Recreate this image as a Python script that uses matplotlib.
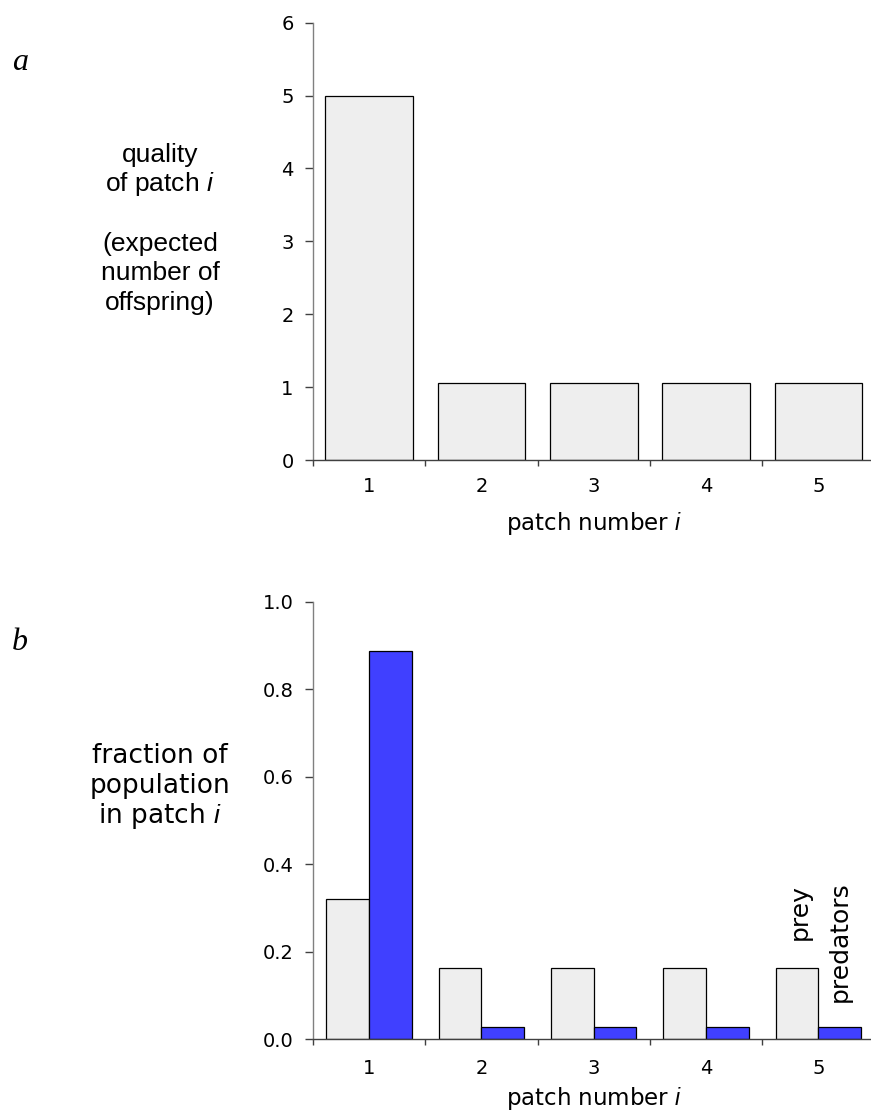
import numpy as np
import matplotlib
matplotlib.use("Agg")
import matplotlib.pyplot as plt

plt.rcParams['mathtext.fontset'] = 'custom'
plt.rcParams['mathtext.it'] = 'Liberation Sans:italic'
plt.rcParams['mathtext.rm'] = 'Liberation Sans'

# data
patches = [1, 2, 3, 4, 5]
quality = [5.0, 1.05, 1.05, 1.05, 1.05]
prey_frac = [0.32, 0.163, 0.163, 0.163, 0.163]
pred_frac = [0.888, 0.029, 0.029, 0.029, 0.029]
top_yticks = [0, 1, 2, 3, 4, 5, 6]
bottom_yticks = [0.0, 0.2, 0.4, 0.6, 0.8, 1.0]
bottom_ytick_labels = ['0.0', '0.2', '0.4', '0.6', '0.8', '1.0']

top_label = ["quality", "of patch $i$", "", "(expected", "number of", "offspring)"]
bottom_label = ["fraction of", "population", "in patch $i$"]

W, H = 871, 1115
fig = plt.figure(figsize=(W / 100, H / 100), dpi=100)

gray_fill = '#eeeeee'
blue_fill = '#4040ff'
unit = 112.3
left_px = 313


def style_axis(ax, yticks, ylabels, xpad):
    for s in ['top', 'right']:
        ax.spines[s].set_visible(False)
    ax.spines['left'].set_color('#808080')
    ax.spines['bottom'].set_color('#404040')
    ax.spines['left'].set_linewidth(1.0)
    ax.spines['bottom'].set_linewidth(1.0)
    ax.set_xlim(0.5, 5.5)
    ax.set_xticks(patches)
    ax.set_xticklabels([str(p) for p in patches], fontsize=14, family='DejaVu Sans')
    ax.tick_params(axis='x', which='major', length=0, pad=xpad)
    ax.set_xticks([0.5, 1.5, 2.5, 3.5, 4.5], minor=True)
    ax.tick_params(axis='x', which='minor', length=4, width=1, color='#404040')
    ax.set_yticks(yticks)
    ax.set_yticklabels(ylabels, fontsize=14, family='DejaVu Sans')
    ax.tick_params(axis='y', length=6, width=1, color='#404040', pad=8)


# panel a
ax1 = fig.add_axes([left_px / W, 1 - 460 / H, 5 * unit / W, 437.3 / H])
ax1.bar(patches, quality, width=0.78, color=gray_fill, edgecolor='black', linewidth=0.9)
ax1.set_ylim(0, 6)
style_axis(ax1, top_yticks, [str(t) for t in top_yticks], 12)
ax1.set_xlabel("patch number $i$", fontsize=16.5, family='DejaVu Sans', labelpad=10)

# panel b
ax2 = fig.add_axes([left_px / W, 1 - 1039.3 / H, 5 * unit / W, 437.6 / H])
x = np.array(patches)
ax2.bar(x - 0.19, prey_frac, width=0.38, color=gray_fill, edgecolor='black', linewidth=0.9)
ax2.bar(x + 0.19, pred_frac, width=0.38, color=blue_fill, edgecolor='black', linewidth=0.9)
ax2.set_ylim(0, 1.0)
style_axis(ax2, bottom_yticks, bottom_ytick_labels, 14)
ax2.set_xlabel("patch number $i$", fontsize=16.5, family='DejaVu Sans', labelpad=5)

# series labels above the last patch
ax2.annotate("prey", xy=(x[-1] - 0.19, prey_frac[-1]), xytext=(2, 20),
             textcoords='offset points', rotation=90, ha='center', va='bottom',
             fontsize=18, family='DejaVu Sans')
ax2.annotate("predators", xy=(x[-1] + 0.19, pred_frac[-1]), xytext=(0, 18),
             textcoords='offset points', rotation=90, ha='center', va='bottom',
             fontsize=18, family='DejaVu Sans')

# panel letters
fig.text(12 / W, 1 - 70 / H, "a", fontsize=23, family='Liberation Serif', style='italic', va='baseline')
fig.text(12 / W, 1 - 650 / H, "b", fontsize=23, family='Liberation Serif', style='italic', va='baseline')

# left-hand descriptions
for k, line in enumerate(top_label):
    if line:
        fig.text(160 / W, 1 - (161.7 + 29.7 * k) / H, line, ha='center', va='baseline',
                 fontsize=19, family='Liberation Sans')
for k, line in enumerate(bottom_label):
    fig.text(160 / W, 1 - (763 + 30 * k) / H, line, ha='center', va='baseline',
             fontsize=19, family='DejaVu Sans')

fig.savefig('out.png', dpi=100)
